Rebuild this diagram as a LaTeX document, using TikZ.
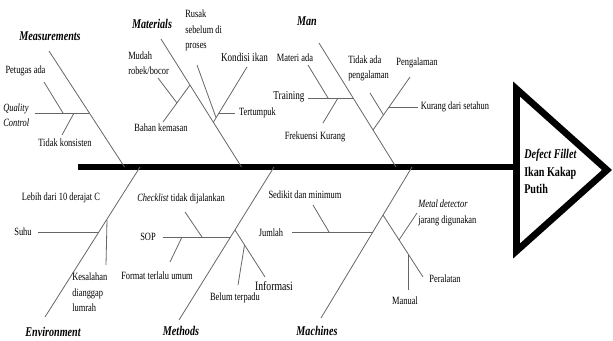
\documentclass[tikz,border=0pt]{standalone}
\usepackage{fontspec}
\setmainfont{Liberation Serif}[FakeStretch=0.76]
\usepackage{tikz}

\begin{document}
\begin{tikzpicture}[
x=0.75pt, y=-0.75pt,
bone/.style={draw=black!60, line width=0.6pt},
spine/.style={draw=black, line width=5pt},
lbl/.style={inner sep=0pt, align=left, font=\fontsize{8.3}{11.6}\selectfont},
biglbl/.style={lbl, font=\fontsize{9}{11.6}\selectfont},
cat/.style={inner sep=0pt, font=\fontsize{10}{12}\selectfont\bfseries\itshape},
head/.style={inner sep=0pt, align=left, font=\fontsize{10}{13.1}\selectfont\bfseries}
]
\useasboundingbox (0,0) rectangle (613,340);

% spine and head
\coordinate (s0) at (78,167);
\coordinate (s1) at (516.5,167);
\coordinate (t1) at (516.5,89);
\coordinate (t2) at (516.5,251);
\coordinate (t3) at (607,170);
\draw[spine] (s0) -- (s1);
\draw[spine, line join=miter] (t1) -- (t3) -- (t2) -- cycle;
\node[head, anchor=west] (fish) at (524,171.5) {\textit{Defect Fillet}\\Ikan Kakap\\Putih};

% main bones
\coordinate (meas0) at (49,51);   \coordinate (meas1) at (124.5,167);
\coordinate (mat0) at (161,39);   \coordinate (mat1) at (241.5,167);
\coordinate (man0) at (319,43);   \coordinate (man1) at (396,167);
\coordinate (env0) at (45,317);   \coordinate (env1) at (140,167);
\coordinate (met0) at (179,320);  \coordinate (met1) at (274,167);
\coordinate (mac0) at (321,318);  \coordinate (mac1) at (412,167);
\draw[bone] (meas0) -- (meas1);
\draw[bone] (mat0) -- (mat1);
\draw[bone] (man0) -- (man1);
\draw[bone] (env0) -- (env1);
\draw[bone] (met0) -- (met1);
\draw[bone] (mac0) -- (mac1);

\node[cat] (measurements) at (50,36) {Measurements};
\node[cat] (materials) at (152,24) {Materials};
\node[cat] (man) at (307,21) {Man};
\node[cat] (environment) at (53,332) {Environment};
\node[cat] (methods) at (181,331) {Methods};
\node[cat] (machines) at (317,331) {Machines};

% measurements
\coordinate (qc0) at (35,113);   \coordinate (qc1) at (89.4,113);
\coordinate (pet0) at (44,82);   \coordinate (pet1) at (63,113);
\coordinate (tk0) at (74,113);   \coordinate (tk1) at (62,135);
\draw[bone] (qc0) -- (qc1);
\draw[bone] (pet0) -- (pet1);
\draw[bone] (tk0) -- (tk1);
\node[lbl] (petugas) at (25.5,71) {Petugas ada};
\node[lbl, anchor=west] (qctrl) at (3,115) {\textit{Quality}\\\textit{Control}};
\node[lbl] (tkonsisten) at (65,143) {Tidak konsisten};

% materials
\coordinate (bk0) at (190,85);   \coordinate (bk1) at (163,122);
\coordinate (mr0) at (158,78);   \coordinate (mr1) at (177,103);
\coordinate (ki0) at (247,67);   \coordinate (ki1) at (213.5,122);
\coordinate (tt0) at (219,113);  \coordinate (tt1) at (235,113);
\coordinate (rs0) at (197,65);   \coordinate (rs1) at (216,117.5);
\draw[bone] (bk0) -- (bk1);
\draw[bone] (mr0) -- (mr1);
\draw[bone] (ki0) -- (ki1);
\draw[bone] (tt0) -- (tt1);
\draw[bone] (rs0) -- (rs1);
\node[lbl, anchor=west] (mudah) at (128,63) {Mudah\\robek/bocor};
\node[lbl] (bahan) at (161,128) {Bahan kemasan};
\node[lbl, anchor=west] (rusak) at (185,30.5) {Rusak\\sebelum di\\proses};
\node[biglbl] (kondisi) at (244.5,57) {Kondisi ikan};
\node[lbl] (tertumpuk) at (257.5,113) {Tertumpuk};

% man
\coordinate (tr0) at (308,98);   \coordinate (tr1) at (353,98);
\coordinate (ma0) at (308,65);   \coordinate (ma1) at (328,98);
\coordinate (fk0) at (338,98);   \coordinate (fk1) at (323,123);
\coordinate (pg0) at (373,130);  \coordinate (pg1) at (410,77);
\coordinate (ta0) at (370,93);   \coordinate (ta1) at (383.5,115);
\coordinate (kd0) at (389,107);  \coordinate (kd1) at (418,107);
\draw[bone] (tr0) -- (tr1);
\draw[bone] (ma0) -- (ma1);
\draw[bone] (fk0) -- (fk1);
\draw[bone] (pg0) -- (pg1);
\draw[bone] (ta0) -- (ta1);
\draw[bone] (kd0) -- (kd1);
\node[lbl] (materi) at (295,58) {Materi ada};
\node[biglbl] (training) at (289,97) {Training};
\node[lbl] (frekuensi) at (315,137) {Frekuensi Kurang};
\node[lbl, anchor=west] (tidakada) at (348,68.5) {Tidak ada\\pengalaman};
\node[lbl] (pengalaman) at (417,63) {Pengalaman};
\node[lbl] (kurang) at (455,107) {Kurang dari setahun};

% environment
\coordinate (su0) at (38,232);   \coordinate (su1) at (99,232);
\coordinate (ks0) at (107,220);  \coordinate (ks1) at (106,265);
\draw[bone] (su0) -- (su1);
\draw[bone] (ks0) -- (ks1);
\node[lbl] (lebih) at (61,198) {Lebih dari 10 derajat C};
\node[lbl] (suhu) at (23,232) {Suhu};
\node[lbl, anchor=west] (kesalahan) at (72,292.5) {Kesalahan\\dianggap\\lumrah};

% methods
\coordinate (sop0) at (163,237); \coordinate (sop1) at (230.5,237);
\coordinate (cl0) at (185,212);  \coordinate (cl1) at (202,237);
\coordinate (ft0) at (182,237);  \coordinate (ft1) at (170,262);
\coordinate (inf0) at (235,230); \coordinate (inf1) at (265,277);
\coordinate (bt0) at (244.5,245);\coordinate (bt1) at (238,285);
\draw[bone] (sop0) -- (sop1);
\draw[bone] (cl0) -- (cl1);
\draw[bone] (ft0) -- (ft1);
\draw[bone] (inf0) -- (inf1);
\draw[bone] (bt0) -- (bt1);
\node[lbl, anchor=west] (checklist) at (137,199) {\textit{Checklist} tidak dijalankan};
\node[lbl] (sop) at (148,237) {SOP};
\node[lbl] (format) at (157,276) {Format terlalu umum};
\node[lbl, font=\fontsize{9.6}{11.6}\selectfont] (informasi) at (274,286) {Informasi};
\node[lbl] (belum) at (235,298) {Belum terpadu};

% machines
\coordinate (ju0) at (292,232);  \coordinate (ju1) at (373,232);
\coordinate (sd0) at (313,205);  \coordinate (sd1) at (329,232);
\coordinate (pr0) at (383,215);  \coordinate (pr1) at (423,277);
\coordinate (md0) at (417,213);  \coordinate (md1) at (399,240);
\coordinate (mn0) at (408,254);  \coordinate (mn1) at (408,290);
\draw[bone] (ju0) -- (ju1);
\draw[bone] (sd0) -- (sd1);
\draw[bone] (pr0) -- (pr1);
\draw[bone] (md0) -- (md1);
\draw[bone] (mn0) -- (mn1);
\node[lbl] (sedikit) at (305,195) {Sedikit dan minimum};
\node[lbl] (jumlah) at (271,233) {Jumlah};
\node[lbl, anchor=west] (metal) at (418,213) {\textit{Metal detector}\\jarang digunakan};
\node[lbl] (manual) at (405,301) {Manual};
\node[lbl] (peralatan) at (445,279) {Peralatan};
\end{tikzpicture}
\end{document}
